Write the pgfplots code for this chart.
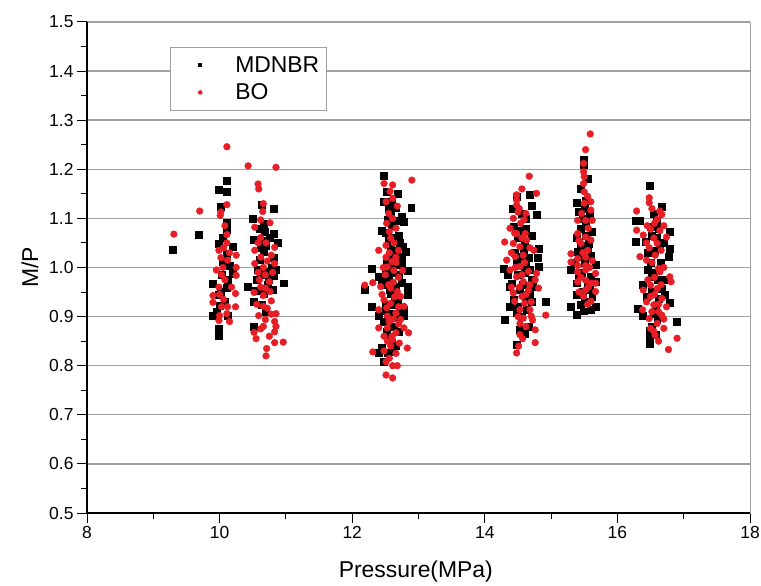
\documentclass[border=0pt]{standalone}
\usepackage{fontspec}
\setmainfont{Liberation Sans}
\usepackage{pgfplots}
\usepackage{pgfplotstable}
\pgfplotsset{compat=1.18}
\definecolor{bored}{RGB}{232,30,38}
\definecolor{gridgray}{RGB}{160,160,160}

\pgfplotstableread{
x y
9.29 1.036
9.69 1.066
10.10 1.177
9.99 1.159
10.10 1.154
10.02 1.124
10.10 1.091
10.10 1.077
10.05 1.060
9.99 1.049
10.20 1.042
10.11 1.028
10.05 1.012
10.15 1.003
10.20 0.988
10.03 0.985
10.12 0.975
9.90 0.967
10.10 0.958
10.02 0.950
9.99 0.944
10.08 0.930
10.00 0.922
9.95 0.910
9.90 0.901
10.12 0.901
9.99 0.876
9.99 0.862
10.64 1.127
10.81 1.119
10.50 1.100
10.66 1.090
10.60 1.080
10.68 1.072
10.82 1.068
10.75 1.060
10.52 1.056
10.65 1.055
10.88 1.050
10.70 1.045
10.62 1.040
10.67 1.032
10.82 1.020
10.60 1.015
10.78 1.000
10.58 0.995
10.70 0.992
10.85 0.995
10.62 0.985
10.82 0.984
10.74 0.975
10.56 0.975
10.96 0.968
10.42 0.961
10.73 0.965
10.80 0.955
10.55 0.953
10.66 0.947
10.52 0.930
10.64 0.925
10.70 0.910
10.52 0.879
12.48 1.186
12.89 1.121
12.60 1.134
12.48 1.134
12.65 1.121
12.52 1.155
12.68 1.150
12.55 1.120
12.58 1.110
12.75 1.103
12.66 1.095
12.77 1.093
12.53 1.097
12.60 1.086
12.45 1.075
12.50 1.070
12.70 1.065
12.63 1.061
12.55 1.055
12.72 1.050
12.76 1.043
12.58 1.040
12.80 1.032
12.63 1.035
12.67 1.025
12.58 1.018
12.75 1.022
12.52 1.010
12.62 1.005
12.74 1.005
12.30 0.998
12.83 0.994
12.60 0.990
12.51 0.989
12.70 0.985
12.40 0.982
12.55 0.975
12.48 0.975
12.75 0.970
12.45 0.965
12.19 0.954
12.83 0.961
12.66 0.960
12.57 0.955
12.83 0.944
12.58 0.947
12.64 0.940
12.68 0.934
12.60 0.925
12.50 0.925
12.29 0.920
12.51 0.911
12.78 0.914
12.72 0.915
12.58 0.905
12.40 0.901
12.78 0.901
12.68 0.900
12.53 0.894
12.48 0.890
12.62 0.880
12.52 0.870
12.70 0.870
12.55 0.860
12.60 0.845
12.65 0.840
12.45 0.836
12.40 0.826
12.53 0.827
12.61 0.829
12.48 0.808
14.67 1.148
14.48 1.144
14.70 1.125
14.42 1.120
14.55 1.110
14.78 1.107
14.61 1.100
14.43 1.083
14.62 1.080
14.52 1.075
14.70 1.065
14.50 1.060
14.60 1.050
14.81 1.039
14.58 1.035
14.45 1.030
14.55 1.022
14.66 1.020
14.80 1.019
14.48 1.010
14.62 1.005
14.81 1.002
14.28 0.998
14.68 0.995
14.60 0.990
14.50 0.985
14.35 0.985
14.70 0.975
14.41 0.968
14.57 0.965
14.38 0.961
14.72 0.960
14.52 0.955
14.58 0.945
14.68 0.944
14.62 0.935
14.44 0.935
14.71 0.931
14.92 0.930
14.38 0.921
14.50 0.920
14.63 0.915
14.48 0.907
14.55 0.900
14.30 0.894
14.66 0.880
14.53 0.873
14.60 0.865
14.48 0.843
15.49 1.219
15.49 1.209
15.55 1.180
15.45 1.160
15.52 1.137
15.38 1.132
15.50 1.120
15.41 1.114
15.58 1.110
15.48 1.100
15.52 1.093
15.45 1.080
15.62 1.073
15.52 1.065
15.38 1.060
15.57 1.049
15.45 1.045
15.55 1.040
15.40 1.032
15.60 1.025
15.42 1.022
15.35 1.010
15.50 1.010
15.67 1.005
15.30 0.995
15.46 0.990
15.42 0.985
15.60 0.981
15.67 0.971
15.55 0.970
15.39 0.968
15.58 0.955
15.48 0.950
15.39 0.944
15.62 0.940
15.50 0.930
15.44 0.925
15.30 0.921
15.67 0.921
15.60 0.915
15.49 0.911
15.39 0.904
16.48 1.166
16.67 1.123
16.55 1.110
16.27 1.095
16.34 1.095
16.59 1.095
16.50 1.083
16.62 1.080
16.79 1.073
16.52 1.065
16.60 1.060
16.27 1.053
16.42 1.053
16.70 1.050
16.64 1.043
16.79 1.038
16.56 1.035
16.46 1.030
16.77 1.022
16.50 1.010
16.66 1.010
16.45 0.995
16.55 0.990
16.52 0.981
16.70 0.975
16.60 0.975
16.38 0.964
16.67 0.957
16.52 0.950
16.72 0.945
16.44 0.940
16.62 0.936
16.79 0.929
16.58 0.920
16.30 0.916
16.38 0.902
16.55 0.905
16.60 0.895
16.90 0.890
16.52 0.880
16.48 0.871
16.58 0.864
16.48 0.857
16.48 0.844
}\mdnbr

\pgfplotstableread{
x y
9.31 1.068
9.70 1.115
10.11 1.246
10.11 1.128
10.02 1.113
10.01 1.106
10.08 1.085
10.11 1.067
10.11 1.050
10.06 1.040
9.99 1.035
10.15 1.030
10.25 1.025
10.02 1.020
10.12 1.015
10.05 1.000
10.25 1.000
9.95 0.995
10.03 0.985
10.25 0.984
10.08 0.975
10.18 0.960
9.99 0.960
10.24 0.947
10.00 0.945
9.90 0.943
10.06 0.935
9.90 0.929
10.03 0.920
10.12 0.920
10.24 0.920
10.11 0.906
10.00 0.902
9.99 0.892
10.15 0.890
10.43 1.207
10.85 1.204
10.58 1.170
10.59 1.160
10.66 1.130
10.65 1.114
10.62 1.097
10.76 1.091
10.53 1.082
10.62 1.061
10.70 1.050
10.58 1.050
10.83 1.041
10.53 1.035
10.78 1.025
10.62 1.021
10.72 1.013
10.83 1.008
10.53 1.008
10.66 1.000
10.58 0.990
10.80 0.990
10.69 0.985
10.60 0.975
10.75 0.971
10.62 0.960
10.69 0.958
10.76 0.951
10.52 0.949
10.66 0.943
10.78 0.932
10.56 0.925
10.66 0.921
10.72 0.917
10.85 0.906
10.78 0.905
10.59 0.902
10.69 0.894
10.83 0.890
10.85 0.880
10.66 0.880
10.62 0.875
10.52 0.868
10.83 0.869
10.75 0.860
10.55 0.855
10.83 0.847
10.96 0.848
10.71 0.835
10.70 0.820
12.90 1.178
12.48 1.171
12.61 1.168
12.57 1.155
12.61 1.141
12.51 1.134
12.68 1.125
12.55 1.110
12.61 1.100
12.52 1.090
12.66 1.080
12.56 1.073
12.58 1.060
12.63 1.050
12.51 1.045
12.70 1.035
12.40 1.035
12.56 1.030
12.51 1.021
12.66 1.021
12.60 1.012
12.66 1.010
12.53 1.001
12.47 1.000
12.63 0.994
12.76 0.994
12.50 0.985
12.70 0.980
12.62 0.970
12.31 0.969
12.55 0.965
12.19 0.964
12.43 0.961
12.58 0.958
12.68 0.951
12.45 0.945
12.73 0.941
12.64 0.940
12.48 0.934
12.58 0.927
12.78 0.921
12.70 0.920
12.52 0.918
12.40 0.914
12.66 0.907
12.53 0.901
12.62 0.895
12.73 0.894
12.56 0.890
12.70 0.885
12.40 0.877
12.53 0.877
12.78 0.877
12.66 0.867
12.85 0.867
12.48 0.860
12.60 0.860
12.61 0.853
12.53 0.850
12.71 0.846
12.58 0.840
12.83 0.836
12.48 0.830
12.31 0.828
12.66 0.825
12.56 0.815
12.51 0.808
12.61 0.800
12.68 0.800
12.51 0.781
12.61 0.775
14.67 1.186
14.56 1.160
14.78 1.151
14.48 1.148
14.48 1.137
14.48 1.127
14.52 1.120
14.50 1.113
14.62 1.110
14.43 1.100
14.59 1.097
14.54 1.090
14.38 1.080
14.45 1.070
14.48 1.069
14.61 1.069
14.56 1.060
14.63 1.056
14.30 1.052
14.43 1.049
14.53 1.042
14.68 1.040
14.74 1.035
14.40 1.030
14.58 1.025
14.46 1.022
14.33 1.015
14.60 1.010
14.53 1.002
14.46 1.000
14.38 0.995
14.66 0.992
14.78 0.988
14.56 0.985
14.48 0.981
14.76 0.975
14.58 0.971
14.68 0.965
14.40 0.960
14.52 0.960
14.81 0.958
14.66 0.954
14.43 0.948
14.62 0.945
14.56 0.941
14.45 0.931
14.70 0.930
14.60 0.927
14.53 0.914
14.68 0.914
14.92 0.903
14.70 0.901
14.50 0.900
14.58 0.897
14.72 0.893
14.53 0.886
14.62 0.880
14.76 0.873
14.53 0.863
14.57 0.855
14.76 0.847
14.51 0.840
14.48 0.826
15.59 1.272
15.52 1.240
15.49 1.212
15.49 1.195
15.50 1.185
15.49 1.171
15.50 1.154
15.55 1.145
15.60 1.134
15.50 1.131
15.60 1.117
15.46 1.110
15.40 1.096
15.52 1.096
15.62 1.096
15.56 1.080
15.40 1.069
15.52 1.062
15.60 1.056
15.42 1.055
15.45 1.049
15.55 1.035
15.48 1.030
15.30 1.028
15.52 1.021
15.40 1.018
15.62 1.014
15.30 1.011
15.40 1.004
15.52 1.004
15.58 1.000
15.52 0.995
15.40 0.991
15.67 0.988
15.45 0.980
15.52 0.974
15.40 0.971
15.60 0.968
15.67 0.968
15.56 0.960
15.52 0.954
15.67 0.951
15.42 0.950
15.49 0.941
15.60 0.931
15.55 0.925
16.48 1.142
16.48 1.132
16.52 1.120
16.29 1.115
16.64 1.115
16.67 1.108
16.60 1.098
16.56 1.090
16.45 1.085
16.70 1.085
16.50 1.078
16.29 1.076
16.64 1.075
16.39 1.066
16.74 1.062
16.55 1.060
16.44 1.050
16.60 1.049
16.48 1.040
16.66 1.035
16.57 1.025
16.34 1.022
16.44 1.015
16.52 1.010
16.70 1.000
16.62 0.998
16.64 0.991
16.79 0.981
16.56 0.980
16.46 0.975
16.81 0.971
16.66 0.965
16.50 0.964
16.60 0.957
16.39 0.954
16.56 0.945
16.50 0.941
16.67 0.937
16.44 0.930
16.62 0.925
16.55 0.924
16.74 0.920
16.38 0.914
16.52 0.910
16.62 0.910
16.67 0.903
16.48 0.896
16.70 0.895
16.60 0.886
16.50 0.876
16.70 0.876
16.55 0.870
16.57 0.862
16.90 0.856
16.62 0.850
16.77 0.833
}\bo

\begin{document}
\begin{tikzpicture}
\begin{axis}[
  name=ax,
  at={(0,0)}, anchor=south west,
  width=663bp, height=491bp, scale only axis,
  xmin=8, xmax=18, ymin=0.5, ymax=1.5,
  xtick={8,10,12,14,16,18}, minor x tick num=1,
  ytick={0.5,0.6,0.7,0.8,0.9,1.0,1.1,1.2,1.3,1.4,1.5}, minor y tick num=1,
  tick pos=left, tick align=outside,
  major tick length=10bp, minor tick length=6bp,
  major tick style={black, line width=1pt},
  minor tick style={black, line width=1pt},
  ymajorgrids, major grid style={gridgray, line width=1.4pt},
  axis line style={draw=gridgray, line width=0.8pt},
  /pgf/number format/assume math mode=true,
  ticklabel style={font=\fontsize{17.5}{20}\selectfont},
  yticklabel style={/pgf/number format/.cd, fixed, fixed zerofill, precision=1},
  xlabel={Pressure(MPa)}, ylabel={M/P},
  every axis x label/.style={at={(axis description cs:0.496,0)}, anchor=center, yshift=-59bp, font=\fontsize{23}{26}\selectfont},
  every axis y label/.style={at={(axis description cs:0,0.5)}, anchor=center, rotate=90, yshift=57bp, font=\fontsize{23}{26}\selectfont},
  legend style={at={(0.125,0.949)}, anchor=north west, draw=gridgray, line width=0.8pt,
    font=\fontsize{23}{26}\selectfont, inner xsep=6bp, inner ysep=8bp,
    row sep=8bp, column sep=22bp, nodes={inner sep=1bp}},
  legend cell align=left,
]
\addplot[only marks, mark=square*, mark size=3.5pt, black,
  legend image code/.code={\path[draw=none, fill=none] (0bp,-1bp) rectangle (36bp,1bp); \path[draw=none, fill=black] (22bp,-2bp) rectangle (26bp,2bp);}]
  table[x=x,y=y]{\mdnbr};
\addplot[only marks, mark=*, mark size=3.4pt, color=bored, mark options={draw=bored, fill=bored},
  legend image code/.code={\path[draw=none, fill=none] (0bp,-1bp) rectangle (36bp,1bp); \path[draw=none, fill=bored] (24bp,0bp) circle (2.3bp);}]
  table[x=x,y=y]{\bo};
\legend{MDNBR, BO}
\end{axis}
\draw[black, line width=1.2pt] (ax.north west) -- (ax.south west) -- (ax.south east);
\pgfresetboundingbox
\path[use as bounding box] (-87bp,-73bp) rectangle (674bp,513bp);
\end{tikzpicture}
\end{document}
